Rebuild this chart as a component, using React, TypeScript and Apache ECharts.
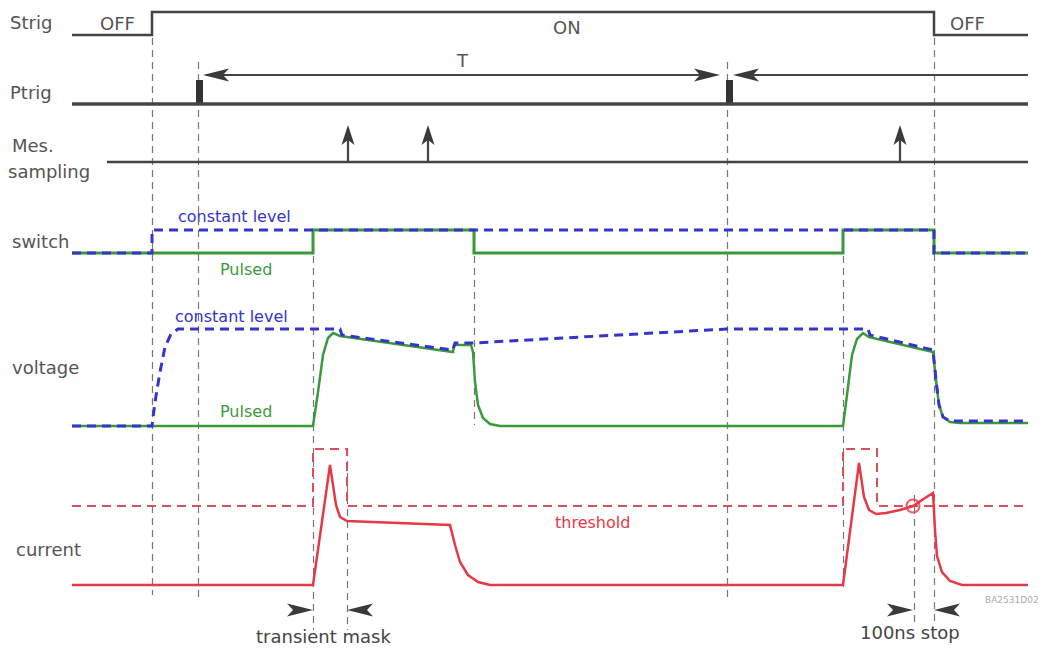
import React, { useEffect, useRef } from "react";
import * as echarts from "echarts";

// ---- time axis (x) and level axis (y, top→down) in diagram units ----
const strig: number[][] = [[72, 35], [152, 35], [152, 12], [934, 12], [934, 35], [1028, 35]];
const ptrig: number[][] = [[72, 104], [1028, 104]];
const ptrigPulses: number[] = [199.5, 729.5];
const samplingBase: number[][] = [[107, 162], [1028, 162]];
const samplingTimes: number[] = [348, 428, 900];
const switchPulsed: number[][] = [[72, 253], [313, 253], [313, 230], [474, 230], [474, 253], [843, 253], [843, 230], [934, 230], [934, 253], [1028, 253]];
const switchConst: number[][] = [[72, 253], [152, 253], [152, 230], [934, 230], [934, 253], [1028, 253]];
const voltagePulsed: number[][] = [[72, 426], [313, 426], [318, 392], [323, 355], [328, 338], [333, 333], [340, 336], [453, 352], [454, 345], [471, 345], [473, 352], [475, 382], [478, 405], [483, 418], [490, 424], [500, 426], [843, 426], [847, 395], [852, 355], [857, 339], [863, 333], [869, 337], [933, 352], [936, 380], [939, 405], [943, 417], [950, 422], [960, 423], [1028, 423]];
const voltageConst: number[][] = [[72, 426], [152, 426], [155, 402], [160, 372], [165, 347], [171, 334], [178, 329], [340, 329], [342, 335], [453, 350], [455, 343], [473, 343], [727, 329], [868, 329], [870, 335], [933, 350], [936, 380], [939, 405], [943, 417], [950, 421], [1028, 421]];
const current: number[][] = [[72, 585], [313, 585], [330, 465], [336, 505], [340, 517], [347, 521], [450, 525], [455, 545], [460, 562], [468, 575], [478, 582], [490, 585], [843, 585], [859, 463], [864, 497], [869, 510], [876, 514], [886, 513], [900, 510], [913, 506], [925, 498], [933, 493], [935, 530], [937, 556], [942, 572], [950, 581], [962, 585], [1028, 585]];
const threshold: number[][] = [[72, 506], [313, 506], [313, 449], [347, 449], [347, 506], [843, 506], [843, 449], [877, 449], [877, 506], [1028, 506]];
const stopPoint: number[][] = [[913, 506]];
const markerTimes: number[][] = [[152, 38, 595], [198, 62, 598], [313, 232, 630], [347, 449, 630], [474, 232, 425], [727, 62, 598], [843, 232, 592], [914, 495, 625], [934, 38, 625]];
const periodLines: number[][][] = [[[206, 75], [716, 75]], [[737, 75], [1028, 75]]];
const arrowsRight: number[][] = [[720, 75], [313, 610], [913, 610]];
const arrowsLeft: number[][] = [[203, 75], [733, 75], [347, 610], [934, 610]];

const rowLabels = ["Strig", "Ptrig", "Mes.", "sampling", "switch", "voltage", "current"];
const stateLabels = ["OFF", "ON", "OFF", "T"];
const traceLabels = ["constant level", "Pulsed", "constant level", "Pulsed", "threshold"];
const noteLabels = ["transient mask", "100ns stop", "BA2531D02"];

const FONT = "DejaVu Sans, Verdana, sans-serif";
const GREY = "#555";
const GREEN = "#3a9a3a";
const BLUE = "#3535cc";
const RED = "#e63946";
const INK = "#3a3a3a";

const HEAD_R = "path://M26,6.5 L0,0 L6,6.5 L0,13 Z";
const HEAD_L = "path://M0,6.5 L26,0 L20,6.5 L26,13 Z";
const HEAD_U = "path://M6.5,0 L13,20 L6.5,15 L0,20 Z";

export default function App() {
  const ref = useRef<HTMLDivElement>(null);
  useEffect(() => {
    document.body.style.margin = "0";
    const chart = echarts.init(ref.current!, undefined, { renderer: "svg" });
    const txt = (text: string, x: number, y: number, size: number, fill: string) => ({
      type: "text",
      x,
      y,
      style: { text, font: `${size}px ${FONT}`, fill, textVerticalAlign: "middle" },
    });
    const line = (name: string, data: number[][], color: string, width: number, dashed?: number[]) => ({
      name,
      type: "line",
      data,
      symbol: "none",
      smooth: false,
      lineStyle: { color, width, type: dashed ? dashed : "solid", cap: "butt", join: "miter" },
      z: 3,
    });
    const heads = (data: number[][], symbol: string, size: number[], offset: number[]) => ({
      type: "scatter",
      data,
      symbol,
      symbolSize: size,
      symbolOffset: offset,
      symbolKeepAspect: false,
      itemStyle: { color: INK, opacity: 1 },
      z: 5,
    });
    chart.setOption({
      animation: false,
      grid: { left: 0, right: 0, top: 0, bottom: 0, containLabel: false },
      xAxis: { type: "value", min: 0, max: 1064, show: false },
      yAxis: { type: "value", min: 0, max: 653, inverse: true, show: false },
      series: [
        {
          type: "lines",
          coordinateSystem: "cartesian2d",
          data: markerTimes.map(([x, y0, y1]) => ({ coords: [[x, y0], [x, y1]] })),
          symbol: "none",
          lineStyle: { color: "#777", width: 1.2, type: [7, 5], opacity: 1 },
          z: 1,
        },
        line("Strig", strig, "#444", 2.5),
        line("Ptrig", ptrig, "#444", 3.5),
        {
          type: "lines",
          coordinateSystem: "cartesian2d",
          data: ptrigPulses.map((x) => ({ coords: [[x, 105], [x, 80]] })),
          symbol: "none",
          lineStyle: { color: "#333", width: 7, opacity: 1, cap: "butt" },
          z: 3,
        },
        line("sampling", samplingBase, "#444", 2.5),
        {
          type: "lines",
          coordinateSystem: "cartesian2d",
          data: [
            ...samplingTimes.map((x) => ({ coords: [[x, 162], [x, 140]] })),
            ...periodLines.map((c) => ({ coords: c })),
          ],
          symbol: "none",
          lineStyle: { color: "#444", width: 2.2, opacity: 1 },
          z: 3,
        },
        heads(samplingTimes.map((x) => [x, 125]), HEAD_U, [13, 20], [0, 10]),
        heads(arrowsRight, HEAD_R, [26, 13], [-13, 0]),
        heads(arrowsLeft, HEAD_L, [26, 13], [13, 0]),
        line("switch pulsed", switchPulsed, GREEN, 3),
        line("switch constant", switchConst, BLUE, 3, [9, 6]),
        line("voltage pulsed", voltagePulsed, GREEN, 2.5),
        line("voltage constant", voltageConst, BLUE, 3, [9, 6]),
        line("threshold", threshold, "#d9505a", 2, [9, 6]),
        line("current", current, RED, 2.5),
        {
          type: "scatter",
          data: stopPoint,
          symbol: "circle",
          symbolSize: 13,
          itemStyle: { color: "rgba(0,0,0,0)", borderColor: RED, borderWidth: 2 },
          z: 4,
        },
      ],
      graphic: [
        txt(rowLabels[0], 10, 22, 18, GREY),
        txt(rowLabels[1], 10, 92, 18, GREY),
        txt(rowLabels[2], 12, 145, 18, GREY),
        txt(rowLabels[3], 8, 171, 18, GREY),
        txt(rowLabels[4], 12, 241, 18, GREY),
        txt(rowLabels[5], 12, 367, 18, GREY),
        txt(rowLabels[6], 16, 549, 18, GREY),
        txt(stateLabels[0], 100, 23, 18, GREY),
        txt(stateLabels[1], 553, 27, 18, GREY),
        txt(stateLabels[2], 950, 23, 18, GREY),
        txt(stateLabels[3], 457, 60, 18, GREY),
        txt(traceLabels[0], 178, 216, 16, BLUE),
        txt(traceLabels[1], 220, 269, 16, GREEN),
        txt(traceLabels[2], 175, 316, 16, BLUE),
        txt(traceLabels[3], 220, 411, 16, GREEN),
        txt(traceLabels[4], 555, 522, 16, RED),
        txt(noteLabels[0], 256, 636, 18, "#444"),
        txt(noteLabels[1], 860, 632, 18, "#444"),
        txt(noteLabels[2], 985, 600, 9, "#aaa"),
      ],
    });
    return () => chart.dispose();
  }, []);
  return <div ref={ref} style={{ width: 1064, height: 653, background: "#fff" }} />;
}
